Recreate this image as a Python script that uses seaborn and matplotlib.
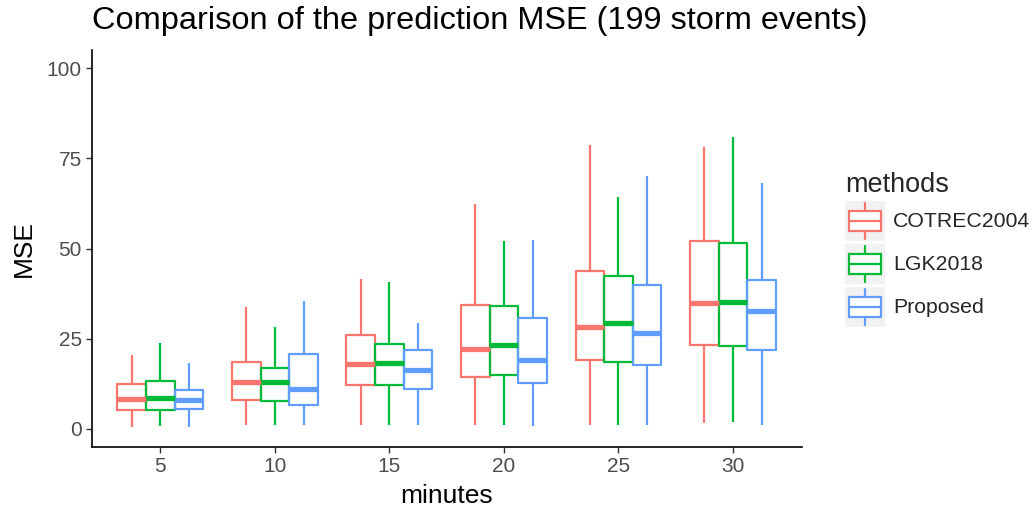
import numpy as np
import pandas as pd
import matplotlib
matplotlib.use("Agg")
import matplotlib.pyplot as plt
import seaborn as sns
from matplotlib.patches import Rectangle
from matplotlib.lines import Line2D
from matplotlib.legend_handler import HandlerBase

# --- data (box stats per lead time) ---
minutes = [5, 10, 15, 20, 25, 30]
methods = ["COTREC2004", "LGK2018", "Proposed"]
colors = ["#F8766D", "#00BA38", "#619CFF"]

cotrec_low = [0.6, 1.0, 1.0, 1.1, 1.1, 1.6]
cotrec_q1 = [5.3, 8.1, 12.1, 14.5, 19.1, 23.4]
cotrec_med = [8.2, 12.9, 18.1, 22.1, 28.3, 34.8]
cotrec_q3 = [12.4, 18.6, 26.1, 34.4, 43.8, 52.1]
cotrec_high = [20.5, 33.9, 41.5, 62.3, 78.7, 78.2]

lgk_low = [0.8, 1.2, 1.2, 1.2, 1.2, 1.8]
lgk_q1 = [5.3, 7.8, 12.1, 15.0, 18.5, 23.0]
lgk_med = [8.7, 12.9, 18.2, 23.2, 29.4, 35.2]
lgk_q3 = [13.3, 16.8, 23.6, 34.0, 42.5, 51.6]
lgk_high = [23.7, 28.3, 40.6, 52.1, 64.4, 81.0]

prop_low = [0.5, 1.0, 1.0, 0.8, 1.2, 1.2]
prop_q1 = [5.4, 6.6, 11.0, 12.8, 17.6, 22.0]
prop_med = [7.9, 11.1, 16.4, 19.1, 26.7, 32.8]
prop_q3 = [10.8, 20.7, 22.0, 30.8, 39.8, 41.4]
prop_high = [18.2, 35.5, 29.4, 52.4, 70.0, 68.1]

stats = {
    "COTREC2004": [cotrec_low, cotrec_q1, cotrec_med, cotrec_q3, cotrec_high],
    "LGK2018": [lgk_low, lgk_q1, lgk_med, lgk_q3, lgk_high],
    "Proposed": [prop_low, prop_q1, prop_med, prop_q3, prop_high],
}

# five points per box -> quartiles land exactly on the read values
rows = []
for m in methods:
    for i, minute in enumerate(minutes):
        for arr in stats[m]:
            rows.append({"minutes": minute, "methods": m, "MSE": arr[i]})
df = pd.DataFrame(rows)

sns.set_theme(style="ticks")
plt.rcParams["font.family"] = ["Liberation Sans", "DejaVu Sans"]

fig = plt.figure(figsize=(10.34, 5.14), dpi=100)
ax = fig.add_axes([91.7 / 1034, 67 / 514, 710 / 1034, 397 / 514])

sns.boxplot(data=df, x="minutes", y="MSE", hue="methods", hue_order=methods,
            palette=colors, fill=False, width=0.75, gap=0, whis=(0, 100),
            linewidth=1.6, showcaps=False, medianprops=dict(linewidth=3.8),
            legend=False, ax=ax)

ax.set_xlim(-0.6, 5.6)
ax.set_ylim(-5, 105)
ax.set_yticks([0, 25, 50, 75, 100])
ax.tick_params(axis="both", labelsize=15, labelcolor="#4D4D4D", color="#333333",
               length=4, width=1, pad=3)
for s in ["top", "right"]:
    ax.spines[s].set_visible(False)
for s in ["left", "bottom"]:
    ax.spines[s].set_color("black")
    ax.spines[s].set_linewidth(1.2)

ax.set_xlabel("minutes", fontsize=19, color="black", labelpad=6)
ax.set_ylabel("MSE", fontsize=19, color="black", labelpad=8)
ax.set_title("Comparison of the prediction MSE (199 storm events)", loc="left",
             fontsize=23.4, color="black", pad=15)


# ggplot-like legend keys: small boxplot glyph on grey background
class BoxKey(HandlerBase):
    def create_artists(self, legend, orig_handle, xdescent, ydescent,
                       width, height, fontsize, trans):
        c = orig_handle.get_color()
        x0, y0 = -xdescent, -ydescent
        bg = Rectangle((x0, y0), width, height, facecolor="#F2F2F2",
                       edgecolor="none", transform=trans)
        box = Rectangle((x0 + 0.1 * width, y0 + 0.26 * height), 0.8 * width,
                        0.5 * height, facecolor="white", edgecolor=c, lw=1.6,
                        transform=trans)
        xm = x0 + width / 2
        med = Line2D([x0 + 0.1 * width, x0 + 0.9 * width],
                     [y0 + 0.51 * height] * 2, color=c, lw=1.6, transform=trans)
        w1 = Line2D([xm, xm], [y0 + 0.76 * height, y0 + 0.96 * height],
                    color=c, lw=1.6, transform=trans)
        w2 = Line2D([xm, xm], [y0 + 0.04 * height, y0 + 0.26 * height],
                    color=c, lw=1.6, transform=trans)
        return [bg, box, med, w1, w2]


handles = [Line2D([], [], color=c) for c in colors]
leg = fig.legend(handles, methods, title="methods", loc="upper left",
                 bbox_to_anchor=(845 / 1034, 1 - 172 / 514), frameon=False,
                 fontsize=15.3, title_fontsize=19.5, handler_map={Line2D: BoxKey()},
                 handlelength=1.88, handleheight=2.52, labelspacing=0.14,
                 handletextpad=0.38, borderpad=0, borderaxespad=0,
                 alignment="left")

fig.savefig("out.png", dpi=100)
